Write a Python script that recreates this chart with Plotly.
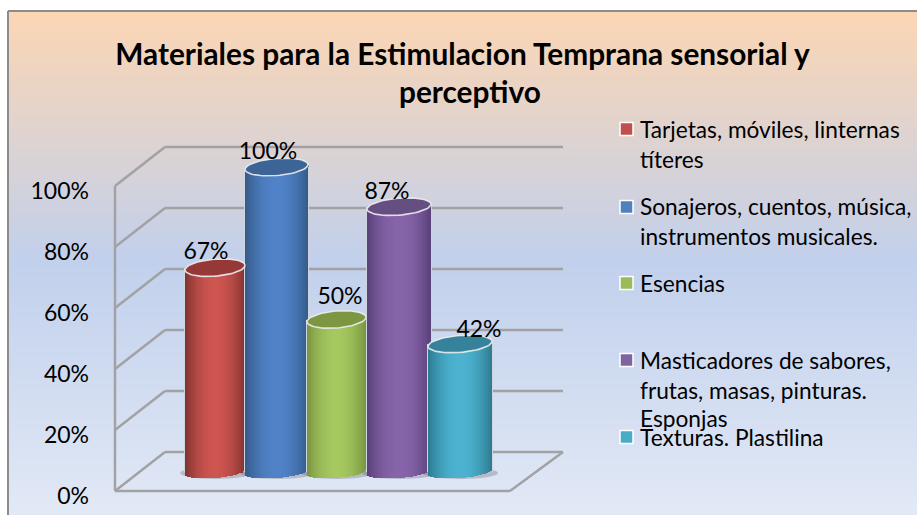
import math
import plotly.graph_objects as go

# ---- chart data ----
TITLE_LINE_1 = "Materiales para la Estimulacion Temprana sensorial y"
TITLE_LINE_2 = "perceptivo"
SERIES = ["Tarjetas, móviles, linternas títeres",
          "Sonajeros, cuentos, música, instrumentos musicales.",
          "Esencias",
          "Masticadores de sabores, frutas, masas, pinturas. Esponjas",
          "Texturas. Plastilina"]
VALUES = [67, 100, 50, 87, 42]
LABELS = ["67%", "100%", "50%", "87%", "42%"]
AXIS_TICKS = [0, 20, 40, 60, 80, 100]

# ---- styling / layout constants ----
W, H = 917, 515
FONT = "Lato"
BAR_LEFT = [185, 245, 307, 367, 428]
BAR_RIGHT = [245, 308, 366, 431, 492]
EDGE_RGB = [(128, 50, 48), (52, 90, 135), (120, 148, 64), (88, 64, 120), (44, 122, 142)]
MID_RGB = [(206, 85, 80), (80, 130, 200), (165, 200, 95), (135, 100, 170), (76, 178, 208)]
CAP = ["rgb(150,56,55)", "rgb(60,100,150)", "rgb(125,150,66)", "rgb(100,78,130)", "rgb(55,130,155)"]
SWATCH = ["#C0504D", "#4F81BD", "#9BBB59", "#8064A2", "#4BACC6"]
LABEL_X = [206, 268, 340, 387, 479]
LABEL_LIFT = [14, 14, 21.5, 13.5, 13]

LEGEND_LINES = [(129, "Tarjetas, móviles, linternas"), (159, "títeres"),
                (206, "Sonajeros, cuentos, música,"), (236, "instrumentos musicales."),
                (283, "Esencias"),
                (360, "Masticadores de sabores,"), (390, "frutas, masas, pinturas."), (418, "Esponjas"),
                (437, "Texturas. Plastilina")]
SWATCH_Y = [129, 207, 283, 360, 437]

# plot region in window pixels; x data units are pixels
PL, PR, PT, PB = 100, 580, 130, 500
PX_PER_PCT = 3.05
Y0_PX = 491
def val(py):
    return (Y0_PX - py) / PX_PER_PCT

DEPTH_X, DEPTH_Y = 50, 39 / PX_PER_PCT
FRONT_X, BACK_RIGHT_X, FRONT_RIGHT_X = 115, 563, 510
BASE = val(472)
TOP_B = 8.5 / PX_PER_PCT
BOT_B = 6.0 / PX_PER_PCT
TILT = 0.075 / PX_PER_PCT
STRIP = 2

def mix(a, b, k):
    return tuple(round(a[i] * (1 - k) + b[i] * k) for i in range(3))

def px(x):
    return (x - PL) / (PR - PL)
def py(y):
    return (PB - y) / (PB - PT)

shapes = []
# background gradient and frame
TOP_C, MID_C, BOT_C = (252, 214, 180), (193, 208, 236), (226, 233, 246)
for y in range(11, H + 2, 2):
    if y < 260:
        c = mix(TOP_C, MID_C, (y - 11) / 249)
    else:
        c = mix(MID_C, BOT_C, (y - 260) / 255)
    shapes.append(dict(type="rect", xref="paper", yref="paper", layer="below",
                       x0=px(8), x1=px(W), y0=py(y + 2.5), y1=py(y),
                       fillcolor=f"rgb{c}", line_width=0))
FRAME = "#8C8C8C"
for (a, b, c, d) in [(8, 11, W, 11), (8, 11, 8, H)]:
    shapes.append(dict(type="line", xref="paper", yref="paper", layer="below",
                       x0=px(a), y0=py(b), x1=px(c), y1=py(d),
                       line=dict(color=FRAME, width=2)))

GRID = dict(color="#A2A2A4", width=2.5)
def seg(x0, y0, x1, y1):
    shapes.append(dict(type="line", xref="x", yref="y", layer="below",
                       x0=x0, y0=y0, x1=x1, y1=y1, line=GRID))
for t in AXIS_TICKS:
    seg(FRONT_X, t, FRONT_X + DEPTH_X, t + DEPTH_Y)
    seg(FRONT_X + DEPTH_X, t + DEPTH_Y, BACK_RIGHT_X, t + DEPTH_Y)
seg(FRONT_X, 0, FRONT_X, 100)
seg(FRONT_X, 0, FRONT_RIGHT_X, 0)
seg(FRONT_RIGHT_X, 0, BACK_RIGHT_X, DEPTH_Y)

# soft floor shadows
for l, r in zip(BAR_LEFT, BAR_RIGHT):
    shapes.append(dict(type="circle", xref="x", yref="y", layer="below",
                       x0=l - 5, x1=r + 6, y0=BASE - BOT_B - 0.3, y1=BASE + 1.6,
                       fillcolor="rgba(110,110,115,0.35)", line_width=0))

fig = go.Figure()
# cylinder bodies: each bar is a run of thin shaded strips
for i, v in enumerate(VALUES):
    l, r = BAR_LEFT[i], BAR_RIGHT[i]
    cx, a = (l + r) / 2, (r - l) / 2
    xs, ys, bases, cols = [], [], [], []
    x = l
    while x < r:
        c = x + STRIP / 2
        u = max(-1, min(1, (c - cx) / a))
        front = BOT_B * math.sqrt(max(0, 1 - u * u))
        lean = TILT * (c - cx)
        xs.append(c)
        ys.append(v + front)
        bases.append(BASE + lean - front)
        k = abs(u) ** 2.0
        cols.append(f"rgb{mix(MID_RGB[i], EDGE_RGB[i], k)}")
        x += STRIP
    xs += [l - 0.5, r + 0.5]
    ys += [v, v]
    bases += [BASE, BASE]
    cols += ["rgb(206,213,224)"] * 2
    fig.add_bar(x=xs, y=ys, base=bases, width=[STRIP] * (len(xs) - 2) + [1, 1],
                marker=dict(color=cols, line_width=0),
                name=SERIES[i], showlegend=False, hoverinfo="skip")

# cylinder caps
for i, v in enumerate(VALUES):
    l, r = BAR_LEFT[i], BAR_RIGHT[i]
    cx, a = (l + r) / 2, (r - l) / 2
    xs, ys = [], []
    for n in range(61):
        t = 2 * math.pi * n / 60
        dx = a * math.cos(t)
        xs.append(cx + dx)
        ys.append(BASE + v + TOP_B * math.sin(t) + TILT * dx)
    fig.add_scatter(x=xs, y=ys, mode="lines", fill="toself", fillcolor=CAP[i],
                    line=dict(color="rgba(235,237,238,0.9)", width=1.6),
                    showlegend=False, hoverinfo="skip")

# data labels
fig.add_scatter(x=LABEL_X, y=[BASE + v + LABEL_LIFT[i] / PX_PER_PCT for i, v in enumerate(VALUES)],
                mode="text", text=LABELS, textposition="middle center",
                textfont=dict(family=FONT, size=23, color="#000"),
                showlegend=False, hoverinfo="skip", cliponaxis=False)

# legend swatches and text
for y, col in zip(SWATCH_Y, SWATCH):
    shapes.append(dict(type="rect", xref="paper", yref="paper",
                       x0=px(620), x1=px(633), y0=py(y + 6.5), y1=py(y - 6.5),
                       fillcolor=col, line=dict(color="white", width=1.5)))
annotations = [dict(text=t, xref="paper", yref="paper", x=px(638), y=py(y), xanchor="left",
                    yanchor="middle", showarrow=False,
                    font=dict(family=FONT, size=22.7, color="#000"))
               for y, t in LEGEND_LINES]
annotations.append(dict(text=f"<b>{TITLE_LINE_2}</b>", xref="paper", yref="paper",
                        x=px(470), y=py(92), xanchor="center", yanchor="middle", showarrow=False,
                        font=dict(family=FONT, size=29.8, color="#000")))

fig.update_layout(
    width=W, height=H, autosize=False,
    margin=dict(l=PL, r=W - PR, t=PT, b=H - PB, pad=0),
    paper_bgcolor="white", plot_bgcolor="rgba(0,0,0,0)",
    barmode="overlay", bargap=0, showlegend=False,
    title=dict(text=f"<b>{TITLE_LINE_1}</b>", x=462.5 / W, xanchor="center", xref="container",
               y=1 - 55 / H, yanchor="middle", yref="container", automargin=False,
               font=dict(family=FONT, size=29.8, color="#000")),
    xaxis=dict(range=[PL, PR], visible=False, fixedrange=True, automargin=False),
    yaxis=dict(range=[val(PB), val(PT)], tickmode="array", tickvals=AXIS_TICKS,
               ticktext=[f"{t}%" for t in AXIS_TICKS], showgrid=False, zeroline=False,
               showline=False, ticks="", ticklabelstandoff=10, ticklabelshift=5, automargin=False,
               tickfont=dict(family=FONT, size=23, color="#000"), fixedrange=True),
    shapes=shapes, annotations=annotations,
)
fig.write_html("out.html", config=dict(displayModeBar=False),
               post_script="document.body.style.margin='0';document.body.style.overflow='hidden';")
